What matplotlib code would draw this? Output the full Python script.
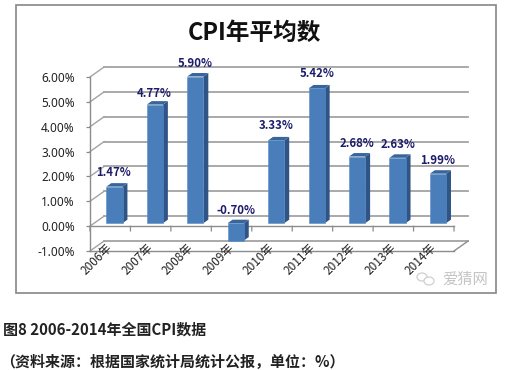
import matplotlib
matplotlib.use('Agg')
import matplotlib.pyplot as plt
from matplotlib.patches import Polygon, Rectangle, Ellipse

plt.rcParams['font.family'] = ['Noto Sans CJK SC', 'DejaVu Sans']

# DATA
years = ['2006年', '2007年', '2008年', '2009年', '2010年', '2011年', '2012年', '2013年', '2014年']
cpi = [1.47, 4.77, 5.90, -0.70, 3.33, 5.42, 2.68, 2.63, 1.99]
y_ticks = [-1, 0, 1, 2, 3, 4, 5, 6]

# label nudges in pixels, measured from the top of each bar
label_dx = [-1, -1, 0, 0, 0, 0, 0, 0, 0]
label_dy = [14, 11, 13, 13, 15, 15, 13, 13, 13]

W, H = 511, 370
GRID = '#a3a3a3'
AXIS = '#8c8c8c'
DEPTH_X = 0.347   # depth of the 3d box in data units
DEPTH_Y = 0.40

fig = plt.figure(figsize=(W / 100, H / 100), dpi=100)
fig.add_artist(Rectangle((15.5 / W, 1 - 293 / H), 480 / W, 288 / H, transform=fig.transFigure,
                         fc='white', ec='#868686', lw=1.2, zorder=-5))

# the axes is the front plane of the 3d box
ax = fig.add_axes([90 / W, 1 - 251 / H, 364 / W, 174 / H])
ax.set_xlim(0, len(years))
ax.set_ylim(-1, 6)
ax.patch.set_visible(False)
for s in ax.spines.values():
    s.set_visible(False)

# back wall grid and the diagonals on the side wall
for v in y_ticks:
    ax.plot([DEPTH_X, len(years) + DEPTH_X], [v + DEPTH_Y, v + DEPTH_Y], color=GRID, lw=1.3, clip_on=False, zorder=1)
    ax.plot([0, DEPTH_X], [v, v + DEPTH_Y], color=GRID, lw=1.0, clip_on=False, zorder=1)

# floor
ax.plot([0, len(years)], [-1, -1], color=AXIS, lw=1.0, clip_on=False, zorder=1)
ax.plot([len(years), len(years) + DEPTH_X], [-1, -1 + DEPTH_Y], color=AXIS, lw=1.0, clip_on=False, zorder=1)

# left axis and zero line
ax.plot([0, 0], [-1, 6], color=AXIS, lw=1.0, clip_on=False, zorder=2)
ax.plot([0, len(years)], [0, 0], color=AXIS, lw=1.0, clip_on=False, zorder=2)

ax.set_yticks(y_ticks)
ax.set_yticklabels(['%.2f%%' % v for v in y_ticks], fontsize=8.5, color='#222222', family=['Noto Sans'])
ax.tick_params(axis='y', length=3, width=0.9, color=AXIS, pad=8)
ax.set_xticks(range(len(years) + 1))
ax.set_xticklabels([''] * (len(years) + 1))
ax.tick_params(axis='x', bottom=False)
# category ticks hang off the zero line, not the floor
for i in range(len(years) + 1):
    ax.annotate('', (i, 0), xytext=(i, -0.2), arrowprops=dict(arrowstyle='-', color=AXIS, lw=0.9, shrinkA=0, shrinkB=0),
                annotation_clip=False)

# bars, front face sits 0.3 into the depth
bar_w = 0.40
front = 0.30
back = 0.65
xs = [i + 0.5 + front * DEPTH_X for i in range(len(years))]
y0 = front * DEPTH_Y
bars = ax.bar(xs, cpi, width=bar_w, bottom=y0, color='#4a7ebb', edgecolor='#5a8cc6', lw=0.4, zorder=5, clip_on=False)
sx = (back - front) * DEPTH_X
sy = (back - front) * DEPTH_Y
for b, v in zip(bars, cpi):
    x1 = b.get_x() + b.get_width()
    x0 = b.get_x()
    lo = min(y0, y0 + v)
    hi = max(y0, y0 + v)
    ax.add_patch(Polygon([(x1, lo), (x1 + sx, lo + sy), (x1 + sx, hi + sy), (x1, hi)],
                         fc='#2f5587', ec='none', zorder=4, clip_on=False))
    ax.add_patch(Polygon([(x0, hi), (x1, hi), (x1 + sx, hi + sy), (x0 + sx, hi + sy)],
                         fc='#38659b', ec='none', zorder=4, clip_on=False))

# data labels
for x, v, dx, dy in zip(xs, cpi, label_dx, label_dy):
    top = y0 + max(v, 0)
    ax.annotate('%.2f%%' % v, (x, top), xytext=(dx * 0.72, dy * 0.72), textcoords='offset points',
                ha='center', va='center', fontsize=8.2, fontweight='bold', color='#1c1c6b',
                zorder=6, annotation_clip=False)

# category labels, rotated, ending just under the floor
for i, name in enumerate(years):
    ax.annotate(name, (i + 0.5, -1), xytext=(-3, 7), textcoords='offset points', rotation=45,
                rotation_mode='anchor', ha='right', va='top', fontsize=8.5, color='#222222',
                annotation_clip=False)

fig.text(254.5 / W, 1 - 33 / H, 'CPI年平均数', ha='center', va='center', fontsize=17, fontweight='bold', color='#111111')

# watermark
fig.text(465 / W, 1 - 279 / H, '爱猜网', ha='center', va='center', fontsize=11, color='#c4c4c4')
fig.add_artist(Ellipse((422 / W, 1 - 277 / H), 10 / W, 8 / H, transform=fig.transFigure, fc='none', ec='#cfcfcf', lw=0.9))
fig.add_artist(Ellipse((429 / W, 1 - 281 / H), 10 / W, 8 / H, transform=fig.transFigure, fc='white', ec='#cfcfcf', lw=0.9))

# captions below the chart
fig.text(3 / W, 1 - 330 / H, '图8 2006-2014年全国CPI数据', ha='left', va='center', fontsize=10.8, fontweight='bold', color='#222222')
fig.text(0 / W, 1 - 362 / H, '（资料来源：根据国家统计局统计公报，单位：%）', ha='left', va='center', fontsize=10.8, fontweight='bold', color='#222222')

plt.savefig('out.png', dpi=100)
